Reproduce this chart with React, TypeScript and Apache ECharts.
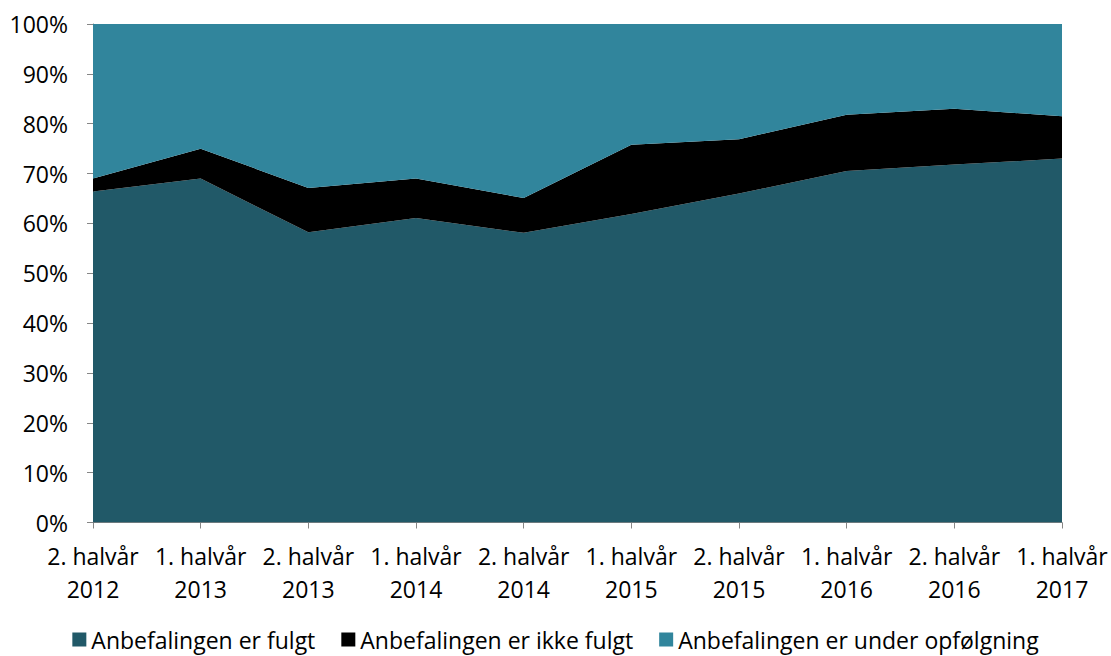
import React, { useEffect, useRef } from "react";
import * as echarts from "echarts";

const categories = [
  "2. halvår\n2012", "1. halvår\n2013", "2. halvår\n2013", "1. halvår\n2014", "2. halvår\n2014",
  "1. halvår\n2015", "2. halvår\n2015", "1. halvår\n2016", "2. halvår\n2016", "1. halvår\n2017",
];
const fulgt = [66.4, 69.0, 58.2, 61.1, 58.1, 61.9, 66.0, 70.5, 71.8, 73.0];
const ikkeFulgt = [2.6, 6.0, 8.9, 7.9, 7.0, 13.9, 10.9, 11.3, 11.2, 8.5];
const underOpfoelgning = [31.0, 25.0, 32.9, 31.0, 34.9, 24.2, 23.1, 18.2, 17.0, 18.5];
const seriesNames = ["Anbefalingen er fulgt", "Anbefalingen er ikke fulgt", "Anbefalingen er under opfølgning"];
const colors = ["#215968", "#000000", "#31859C"];

const FONT = "Open Sans";

export default function App() {
  const ref = useRef<HTMLDivElement>(null);
  useEffect(() => {
    if (!ref.current) return;
    const chart = echarts.init(ref.current, null, { renderer: "svg" });
    const mk = (name: string, data: number[], color: string) => ({
      name,
      type: "line",
      stack: "total",
      data,
      symbol: "none",
      lineStyle: { width: 0 },
      areaStyle: { color, opacity: 1 },
      itemStyle: { color },
    });
    chart.setOption({
      animation: false,
      textStyle: { fontFamily: FONT },
      grid: { left: 93, right: 49, top: 24, bottom: 133.5 },
      legend: {
        top: 623,
        left: "center",
        itemWidth: 14,
        itemHeight: 14,
        itemGap: 26,
        itemTextGap: 7,
        icon: "rect",
        textStyle: { fontFamily: FONT, fontSize: 23, color: "#000" },
        data: seriesNames,
      },
      xAxis: {
        type: "category",
        boundaryGap: false,
        data: categories,
        axisLine: { lineStyle: { color: "#868686", width: 1 } },
        axisTick: { show: true, length: 6, lineStyle: { color: "#868686" } },
        axisLabel: { fontFamily: FONT, fontSize: 23, color: "#000", margin: 17, lineHeight: 33, interval: 0 },
      },
      yAxis: {
        type: "value",
        min: 0,
        max: 100,
        interval: 10,
        axisLine: { show: true, lineStyle: { color: "#868686", width: 1 } },
        axisTick: { show: true, length: 6, lineStyle: { color: "#868686" } },
        splitLine: { show: false },
        axisLabel: { fontFamily: FONT, fontSize: 23, color: "#000", margin: 25, formatter: "{value}%" },
      },
      series: [
        mk(seriesNames[0], fulgt, colors[0]),
        mk(seriesNames[1], ikkeFulgt, colors[1]),
        mk(seriesNames[2], underOpfoelgning, colors[2]),
      ],
    });
    return () => chart.dispose();
  }, []);
  return <div ref={ref} style={{ width: 1111, height: 656, position: "absolute", left: 0, top: 0 }} />;
}
